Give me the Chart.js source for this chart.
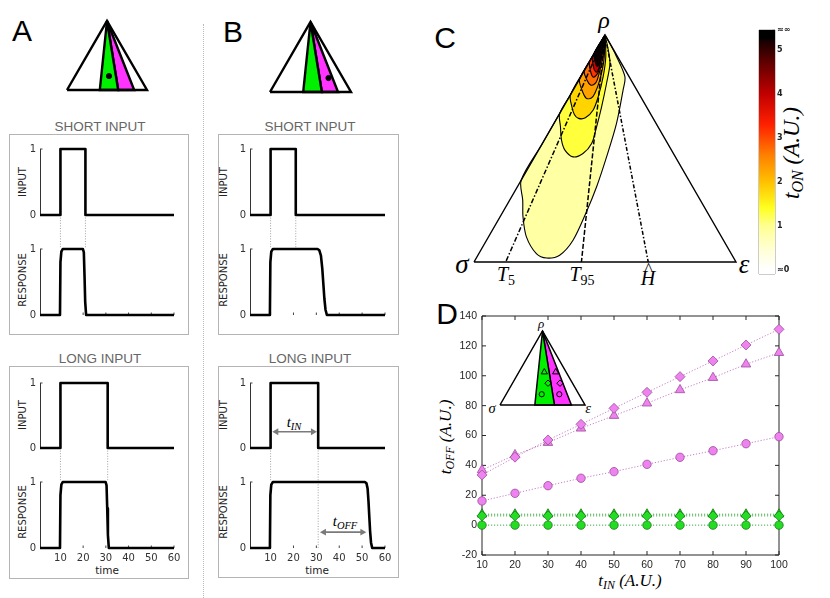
<!DOCTYPE html>
<html>
<head>
<meta charset="utf-8">
<script src="https://cdn.jsdelivr.net/npm/chart.js"></script>
<style>
html, body { margin: 0; padding: 0; background: #fff; }
body { width: 830px; height: 598px; position: relative; overflow: hidden; font-family: 'Liberation Sans', Arial, sans-serif; }
.c { position: absolute; }
.t { position: absolute; transform: translate(-50%, -50%); white-space: nowrap; line-height: 1; }
.L { font-size: 30px; color: #000; }
.S { font-size: 13.5px; color: #666; }
.Y { font-family: 'DejaVu Sans', sans-serif; font-size: 10px; color: #222; transform: translate(-50%, -50%) rotate(-90deg); }
.X { font-family: 'DejaVu Sans', sans-serif; font-size: 10.5px; color: #222; }
.m { font-family: 'Liberation Serif', 'DejaVu Serif', serif; font-style: italic; color: #000; }
.rot { transform: translate(-50%, -50%) rotate(-90deg); }
sub { font-size: 0.7em; vertical-align: -0.3em; line-height: 0; }
.up { font-style: normal; }
.hat { position: relative; display: inline-block; }
.hat span { position: absolute; left: 0.22em; top: -0.45em; font-style: normal; font-size: 0.85em; }
.box { position: absolute; border: 1.5px solid #b4b4b4; box-sizing: border-box; }
</style>
</head>
<body>
<div style="position:absolute;left:203px;top:24px;height:574px;border-left:1px dotted #bbb;"></div>

<div class="box" style="left:9px;top:134px;width:180px;height:201px"></div>
<div class="box" style="left:9px;top:366px;width:180px;height:213px"></div>
<div class="box" style="left:218px;top:134px;width:181px;height:201px"></div>
<div class="box" style="left:218px;top:366px;width:181px;height:212px"></div>

<div class="t L" style="left:22px;top:31px">A</div>
<div class="t L" style="left:233px;top:32px">B</div>
<div class="t L" style="left:445px;top:38px">C</div>
<div class="t L" style="left:447px;top:314px">D</div>

<div class="t S" style="left:100px;top:127px">SHORT INPUT</div>
<div class="t S" style="left:310px;top:127px">SHORT INPUT</div>
<div class="t S" style="left:100px;top:359px">LONG INPUT</div>
<div class="t S" style="left:310px;top:359px">LONG INPUT</div>

<div class="t Y" style="left:23px;top:182px">INPUT</div>
<div class="t Y" style="left:23px;top:280px">RESPONSE</div>
<div class="t Y" style="left:23px;top:415px">INPUT</div>
<div class="t Y" style="left:23px;top:512px">RESPONSE</div>
<div class="t Y" style="left:224px;top:182px">INPUT</div>
<div class="t Y" style="left:224px;top:280px">RESPONSE</div>
<div class="t Y" style="left:224px;top:415px">INPUT</div>
<div class="t Y" style="left:224px;top:512px">RESPONSE</div>
<div class="t X" style="left:107px;top:570px">time</div>
<div class="t X" style="left:317px;top:570px">time</div>

<div class="t m" style="left:294px;top:422px;font-size:15px">t<sub>IN</sub></div>
<div class="t m" style="left:345px;top:521px;font-size:15px">t<sub>OFF</sub></div>

<div class="t m" style="left:604px;top:20px;font-size:24px">ρ</div>
<div class="t m" style="left:462px;top:264px;font-size:27px">σ</div>
<div class="t m" style="left:744px;top:264px;font-size:27px">ε</div>
<div class="t m" style="left:506px;top:274px;font-size:20px">T<sub class="up">5</sub></div>
<div class="t m" style="left:582px;top:274px;font-size:20px">T<sub class="up">95</sub></div>
<div class="t m" style="left:648px;top:278px;font-size:20px"><span class="hat">H<span>^</span></span></div>
<div class="t m rot" style="left:791px;top:153px;font-size:23px">t<sub>ON</sub>&nbsp;(A.U.)</div>

<div class="t m" style="left:541px;top:323px;font-size:13px">ρ</div>
<div class="t m" style="left:492px;top:408px;font-size:14.5px">σ</div>
<div class="t m" style="left:588px;top:408px;font-size:14.5px">ε</div>
<div class="t m" style="left:630px;top:580px;font-size:17px">t<sub>IN</sub>&nbsp;(A.U.)</div>
<div class="t m rot" style="left:445px;top:437px;font-size:17px">t<sub>OFF</sub>&nbsp;(A.U.)</div>

<script>
// ---------- panel D values ----------
const tIn = [10, 20, 30, 40, 50, 60, 70, 80, 90, 100];
const offMagDiamond = [33.6, 45.5, 57, 67.5, 78.2, 88.9, 99.4, 109.9, 120.6, 131.1];
const offMagTriangle = [36.9, 47, 55.2, 64.8, 73.3, 81.6, 90.5, 98.7, 107.7, 115.4];
const offMagCircle = [16.2, 21.3, 26.4, 31.4, 35.8, 40.7, 45.4, 49.8, 54.5, 59.2];
const offGrnDiamond = [6.2, 6.2, 6.2, 6.2, 6.2, 6.2, 6.2, 6.2, 6.2, 6.2];
const offGrnTriangle = [7.3, 7.3, 7.3, 7.3, 7.3, 7.3, 7.3, 7.3, 7.3, 7.3];
const offGrnCircle = [0, 0, 0, 0, 0, 0, 0, 0, 0, 0];

// ---------- panels A / B time courses ----------
const inShortT = [1, 10, 10, 21, 21, 60];
const inShortV = [0, 0, 1, 1, 0, 0];
const inLongT = [1, 10, 10, 30.8, 30.8, 60];
const inLongV = [0, 0, 1, 1, 0, 0];
const respAShortT = [1, 9.8, 10, 10.4, 11, 19.9, 20.3, 20.6, 20.9, 21.3, 60];
const respAShortV = [0, 0, 0.8, 0.96, 1, 1, 0.95, 0.6, 0.2, 0, 0];
const respALongT = [1, 9.8, 10, 10.4, 11, 29.9, 30.3, 30.6, 30.9, 31.3, 60];
const respALongV = [0, 0, 0.8, 0.96, 1, 1, 0.95, 0.6, 0.2, 0, 0];
const respBShortT = [1, 9.7, 9.9, 10.3, 11, 30.5, 31.3, 32, 32.6, 33, 33.5, 34, 34.6, 60];
const respBShortV = [0, 0, 0.8, 0.96, 1, 1, 0.98, 0.9, 0.7, 0.5, 0.25, 0.08, 0, 0];
const respBLongT = [1, 9.7, 9.9, 10.3, 11, 51.2, 51.9, 52.4, 52.8, 53.1, 53.5, 53.9, 54.4, 60];
const respBLongV = [0, 0, 0.8, 0.96, 1, 1, 0.98, 0.9, 0.7, 0.5, 0.25, 0.08, 0, 0];
const tInArrow = [[12.5, 0.25], [28.5, 0.25]];
const tOffArrow = [[33.3, 0.24], [50.1, 0.24]];

// ---------- ternary plane (base 0..100, apex at 50, 86.6) ----------
const triEdge = [[0, 0], [100, 0], [50, 86.6], [0, 0]];
const greenSector = [[50, 86.6], [41, 0], [64, 0], [50, 86.6]];
const magentaSector = [[50, 86.6], [64, 0], [84, 0], [50, 86.6]];
const dotA = [[52.5, 17.5]];
const dotB = [[72.2, 17.3]];
const insetGreenMarks = [[52.1, 38.5], [56.5, 25.5], [49.1, 12.6]];
const insetMagMarks = [[65.5, 38.5], [70.6, 25.5], [69.8, 12.6]];

const lineT5 = [[50, 86.6], [12.1, 0]];
const lineT95 = [[50, 86.6], [41.0, 0]];
const lineH = [[50, 86.6], [66.5, 0]];

// t_ON contour regions, outermost (lowest) first
const cLevel0 = [[50, 86.6], [42, 72.7], [34, 58.9], [26, 45.0], [18, 31.2], [18.6, 23.5], [18.7, 17.2], [20.0, 9.6], [23.8, 3.2], [27.7, 1.5], [32.7, 2.6], [37.8, 8.3], [42.9, 19.1], [46.8, 28.7], [50.6, 40.1], [54.4, 52.9], [56.9, 65.6], [57.6, 70.7], [54.1, 79.0], [51.5, 84.0], [50, 86.6]];
const cLevel1 = [[50, 86.6], [45.6, 79.0], [41.2, 71.4], [36.9, 63.9], [32.7, 56.6], [33.0, 51.6], [33.4, 46.5], [34.7, 42.7], [37.8, 40.1], [41.6, 41.4], [44.9, 45.2], [46.8, 51.6], [48.7, 59.2], [50.6, 68.2], [51.9, 75.8], [51.1, 81.7], [50, 86.6]];
const cLevel2 = [[50, 86.6], [43.4, 75.2], [36.8, 63.7], [37.3, 59.5], [38.3, 56.3], [39.9, 54.8], [42.5, 55.0], [45.5, 58.0], [47.4, 63.0], [49.3, 70.7], [50.3, 78.3], [50, 86.6]];
const cLevel3 = [[50, 86.6], [45.2, 78.2], [40.3, 69.8], [41.2, 65.6], [42.9, 62.4], [44.8, 62.6], [46.1, 64.3], [48.0, 69.4], [49.6, 77.1], [50, 86.6]];
const cLevel4 = [[50, 86.6], [46.1, 79.8], [42.1, 72.9], [43.1, 69.4], [44.5, 67.5], [46.0, 67.9], [47.0, 69.4], [48.7, 75.8], [49.7, 81], [50, 86.6]];
const cLevel5 = [[50, 86.6], [47.1, 81.5], [44.1, 76.3], [44.6, 72.3], [45.7, 70.5], [47.5, 72.6], [48.6, 78.6], [50, 86.6]];
const cLevel6 = [[50, 86.6], [45.3, 78.5], [45.7, 74.0], [46.7, 72.4], [47.9, 74.6], [49.1, 80.5], [50, 86.6]];
const cLevel7 = [[50, 86.6], [45.9, 79.5], [46.3, 76.2], [47.1, 74.6], [48.2, 76.6], [49.3, 82], [50, 86.6]];

// colour bar
const cbTicks = [0, 1, 2, 3, 4, 5];
const cbBreak = 5.22;
const cbTop = 5.45;
const cbWave = [[0, 5.19], [0.35, 5.27], [0.7, 5.17], [1, 5.24]];

// ---------- styles ----------
const levelColors = ['#ffffa3', '#ffff3c', '#ffd400', '#ffa200', '#ff7000', '#ff3300', '#c60000', '#0a0000'];
const cmapStops = [0, 0.5, 1, 1.4, 2, 2.6, 3.3, 4, 4.6, 5.22];
const cmapColors = ['#ffffff', '#ffffd0', '#ffff90', '#ffff20', '#ffc000', '#ff8000', '#ff2000', '#c00000', '#700000', '#150000'];

const pts = a => a.map(p => ({ x: p[0], y: p[1] }));
const xy = (T, V) => T.map((t, i) => ({ x: t, y: V[i] }));

// frame + inward tick marks (MATLAB look)
const frame = {
    id: 'frame',
    beforeDatasetsDraw(chart, args, o) {
        const { ctx, chartArea: a, scales } = chart;
        const len = o.len || 3;
        ctx.save();
        ctx.strokeStyle = o.color || '#333';
        ctx.lineWidth = 1;
        ctx.beginPath();
        if (o.box) ctx.rect(a.left, a.top, a.width, a.height);
        if (o.tx) scales.x.ticks.forEach(t => {
            const p = scales.x.getPixelForValue(t.value);
            ctx.moveTo(p, a.bottom); ctx.lineTo(p, a.bottom - len);
            if (o.box) { ctx.moveTo(p, a.top); ctx.lineTo(p, a.top + len); }
        });
        if (o.ty) scales.y.ticks.forEach(t => {
            const p = scales.y.getPixelForValue(t.value);
            if (o.right) { ctx.moveTo(a.right, p); ctx.lineTo(a.right - len, p); }
            else {
                ctx.moveTo(a.left, p); ctx.lineTo(a.left + len, p);
                if (o.box) { ctx.moveTo(a.right, p); ctx.lineTo(a.right - len, p); }
            }
        });
        ctx.stroke();
        ctx.restore();
    }
};

// put a canvas so that its chart area lands on rect [x0, y0, x1, y1]
function mount(rect, ax, extra) {
    const pad = 14, eb = extra || 0;
    const l = ax.left || 0, r = ax.right || 0, b = ax.bottom || 0;
    const d = document.createElement('div');
    d.className = 'c';
    d.style.left = (rect[0] - l - pad) + 'px';
    d.style.top = (rect[1] - pad) + 'px';
    d.style.width = (rect[2] - rect[0] + l + r + 2 * pad) + 'px';
    d.style.height = (rect[3] - rect[1] + b + 2 * pad + eb) + 'px';
    const cv = document.createElement('canvas');
    d.appendChild(cv);
    document.body.appendChild(d);
    return { cv, padding: { left: pad, right: pad, top: pad, bottom: pad + eb } };
}

function base(padding) {
    return {
        responsive: true, maintainAspectRatio: false, animation: false, events: [],
        layout: { padding },
        elements: { point: { radius: 0 }, line: { tension: 0 } }
    };
}
const noLegend = { legend: { display: false }, tooltip: { enabled: false } };

// ---------- A / B time plots ----------
function timePlot(rect, T, V, o) {
    const m = mount(rect, { left: 30, bottom: o.labels ? 22 : 0 }, o.extra || 0);
    const ds = [{ data: xy(T, V), borderColor: '#000', borderWidth: 2.6, clip: false, borderJoinStyle: 'round' }];
    (o.guides || []).forEach(g => ds.push({ data: pts(g), borderColor: '#8a8a8a', borderWidth: 0.8, borderDash: [1, 1.6], clip: false }));
    (o.arrows || []).forEach(a => ds.push({
        data: pts(a), borderColor: '#7a7a7a', borderWidth: 1.6, clip: false,
        pointStyle: 'triangle', pointRadius: 4, pointRotation: [-90, 90],
        pointBackgroundColor: '#7a7a7a', pointBorderColor: '#7a7a7a', pointBorderWidth: 0
    }));
    const tickFont = { family: 'DejaVu Sans', size: 10 };
    new Chart(m.cv, {
        type: 'line',
        data: { datasets: ds },
        plugins: [frame],
        options: {
            ...base(m.padding),
            plugins: { ...noLegend, frame: { tx: !!o.resp, ty: true, len: 2.5, color: '#444' } },
            scales: {
                x: {
                    type: 'linear', min: 1, max: 60, display: !!o.resp,
                    afterFit: s => { s.height = o.labels ? 22 : 0; },
                    grid: { display: false, drawTicks: false }, border: { display: false },
                    ticks: { display: !!o.labels, stepSize: 10, includeBounds: false, padding: 4, color: '#333', font: tickFont }
                },
                y: {
                    min: 0, max: 1,
                    afterFit: s => { s.width = 30; },
                    grid: { display: false, drawTicks: false },
                    border: { display: true, color: '#333', width: 1 },
                    ticks: { stepSize: 1, padding: 4, color: '#333', font: tickFont }
                }
            }
        }
    });
}

// A short
timePlot([40, 149, 174, 215], inShortT, inShortV, { extra: 110, guides: [[[10, 0], [10, -0.51]], [[21, 0], [21, -0.51]]] });
timePlot([40, 249, 174, 315], respAShortT, respAShortV, { resp: true });
// A long
timePlot([40, 383, 174, 448], inLongT, inLongV, { extra: 110, guides: [[[10, 0], [10, -0.52]], [[30.8, 0], [30.8, -0.52]]] });
timePlot([40, 482, 174, 548], respALongT, respALongV, { resp: true, labels: true });
// B short
timePlot([250, 149, 385, 215], inShortT, inShortV, { extra: 110, guides: [[[10, 0], [10, -0.51]], [[21, 0], [21, -0.51]]] });
timePlot([250, 249, 385, 315], respBShortT, respBShortV, { resp: true });
// B long
timePlot([250, 383, 385, 448], inLongT, inLongV, { extra: 110, arrows: [tInArrow], guides: [[[10, 0], [10, -0.52]], [[30.8, 0], [30.8, -1.54]]] });
timePlot([250, 482, 385, 548], respBLongT, respBLongV, { resp: true, labels: true, arrows: [tOffArrow] });

// ---------- small ternary sketches ----------
function ternOpts(padding) {
    return {
        ...base(padding),
        plugins: noLegend,
        scales: { x: { type: 'linear', display: false, min: 0, max: 100 }, y: { display: false, min: 0, max: 86.6 } }
    };
}
function sketch(rect, lw, marks) {
    const m = mount(rect, {});
    const ds = [
        { data: pts(triEdge), borderColor: '#000', borderWidth: lw, clip: false },
        { data: pts(greenSector), backgroundColor: '#00f000', borderColor: '#000', borderWidth: lw, fill: 'shape', clip: false },
        { data: pts(magentaSector), backgroundColor: '#ff33ff', borderColor: '#000', borderWidth: lw, fill: 'shape', clip: false }
    ];
    marks.forEach(k => ds.unshift(k));
    new Chart(m.cv, { type: 'line', data: { datasets: ds }, options: ternOpts(m.padding) });
}
const dotStyle = d => ({ data: pts(d), showLine: false, pointRadius: 2.6, pointBackgroundColor: '#000', pointBorderColor: '#000', clip: false });
sketch([67, 21, 147, 90], 2.4, [dotStyle(dotA)]);
sketch([270, 22, 351, 92], 2.4, [dotStyle(dotB)]);

// ---------- panel C ----------
(function () {
    const m = mount([474, 35, 736, 262], {});
    const levels = [cLevel0, cLevel1, cLevel2, cLevel3, cLevel4, cLevel5, cLevel6, cLevel7];
    const ds = [
        { data: pts(triEdge), borderColor: '#000', borderWidth: 1.4, clip: false },
        { data: pts(lineT5), borderColor: '#000', borderWidth: 1.5, borderDash: [5, 2, 1.5, 2], clip: false },
        { data: pts(lineT95), borderColor: '#000', borderWidth: 1.5, borderDash: [5, 2], clip: false },
        { data: pts(lineH), borderColor: '#000', borderWidth: 1.5, borderDash: [4, 2, 1.5, 2], clip: false }
    ];
    for (let i = levels.length - 1; i >= 0; i--) {
        ds.push({ data: pts(levels[i]), backgroundColor: levelColors[i], borderColor: '#000', borderWidth: 1.1, fill: 'shape', tension: 0.3, clip: false });
    }
    new Chart(m.cv, { type: 'line', data: { datasets: ds }, options: ternOpts(m.padding) });
})();

// ---------- colour bar ----------
(function () {
    const m = mount([759, 30, 775, 274], { right: 22 });
    new Chart(m.cv, {
        type: 'bar',
        data: {
            labels: ['t_ON'],
            datasets: [
                {
                    data: [[-0.1, cbBreak]], grouped: false, barPercentage: 1, categoryPercentage: 1,
                    backgroundColor: c => {
                        const ch = c.chart;
                        if (!ch.chartArea) return '#fff';
                        const y = ch.scales.y;
                        const lo = cmapStops[0], hi = cmapStops[cmapStops.length - 1];
                        const g = ch.ctx.createLinearGradient(0, y.getPixelForValue(lo), 0, y.getPixelForValue(hi));
                        cmapStops.forEach((v, i) => g.addColorStop((v - lo) / (hi - lo), cmapColors[i]));
                        return g;
                    }
                },
                { data: [[cbBreak, cbTop]], grouped: false, barPercentage: 1, categoryPercentage: 1, backgroundColor: '#000' },
                { type: 'line', xAxisID: 'xw', data: pts(cbWave), borderColor: '#fff', borderWidth: 2.2, tension: 0.4, pointRadius: 0, clip: false }
            ]
        },
        plugins: [frame],
        options: {
            ...base(m.padding),
            plugins: { ...noLegend, frame: { box: true, ty: true, right: true, len: 2.5, color: '#999' } },
            scales: {
                x: { display: false },
                xw: { type: 'linear', display: false, min: 0, max: 1 },
                y: {
                    position: 'right', min: -0.1, max: cbTop,
                    afterFit: s => { s.width = 22; },
                    afterBuildTicks: s => { s.ticks = cbTicks.concat([cbTop]).map(v => ({ value: v })); },
                    grid: { display: false, drawTicks: false }, border: { display: false },
                    ticks: {
                        padding: 2, color: '#222', font: { family: 'DejaVu Sans', size: 8, weight: 'bold' },
                        callback: v => v === 0 ? '≈0' : (v >= cbTop ? '≈∞' : v)
                    }
                }
            }
        }
    });
})();

// ---------- panel D ----------
function series(vals, style, r, fill, edge, line) {
    return {
        data: xy(tIn, vals), pointStyle: style, pointRadius: r,
        pointBackgroundColor: fill, pointBorderColor: edge, pointBorderWidth: 0.8,
        borderColor: line, borderWidth: 1, borderDash: [1.2, 1.8], clip: false
    };
}
(function () {
    const m = mount([482, 316, 779, 555], { left: 45, bottom: 20 });
    const mag = ['#ee82ee', '#9a4f9a', '#c77dc7'];
    const grn = ['#22dd22', '#147a14', '#3aaa3a'];
    const tickFont = { family: 'Liberation Sans', size: 10.5 };
    new Chart(m.cv, {
        type: 'line',
        data: {
            datasets: [
                series(offMagDiamond, 'rectRot', 5, ...mag),
                series(offMagTriangle, 'triangle', 5.5, ...mag),
                series(offMagCircle, 'circle', 4.2, ...mag),
                series(offGrnDiamond, 'rectRot', 5, ...grn),
                series(offGrnTriangle, 'triangle', 5.5, ...grn),
                series(offGrnCircle, 'circle', 4.2, ...grn)
            ]
        },
        plugins: [frame],
        options: {
            ...base(m.padding),
            plugins: { ...noLegend, frame: { box: true, tx: true, ty: true, len: 4, color: '#262626' } },
            scales: {
                x: {
                    type: 'linear', min: 10, max: 100,
                    afterFit: s => { s.height = 20; },
                    grid: { display: false, drawTicks: false }, border: { display: false },
                    ticks: { stepSize: 10, padding: 4, color: '#262626', font: tickFont }
                },
                y: {
                    min: -20, max: 140,
                    afterFit: s => { s.width = 45; },
                    grid: { display: false, drawTicks: false }, border: { display: false },
                    ticks: { stepSize: 20, padding: 5, color: '#262626', font: tickFont }
                }
            }
        }
    });
})();

// inset sketch in D with the marker positions
(function () {
    const hollow = (d) => ({
        data: pts(d), showLine: false, clip: false,
        pointStyle: ['triangle', 'rectRot', 'circle'], pointRadius: [3.6, 3.2, 2.6],
        pointBackgroundColor: 'rgba(0,0,0,0)', pointBorderColor: '#000', pointBorderWidth: 1
    });
    sketch([500, 331, 585, 405], 1.5, [hollow(insetGreenMarks), hollow(insetMagMarks)]);
})();
</script>
</body>
</html>
